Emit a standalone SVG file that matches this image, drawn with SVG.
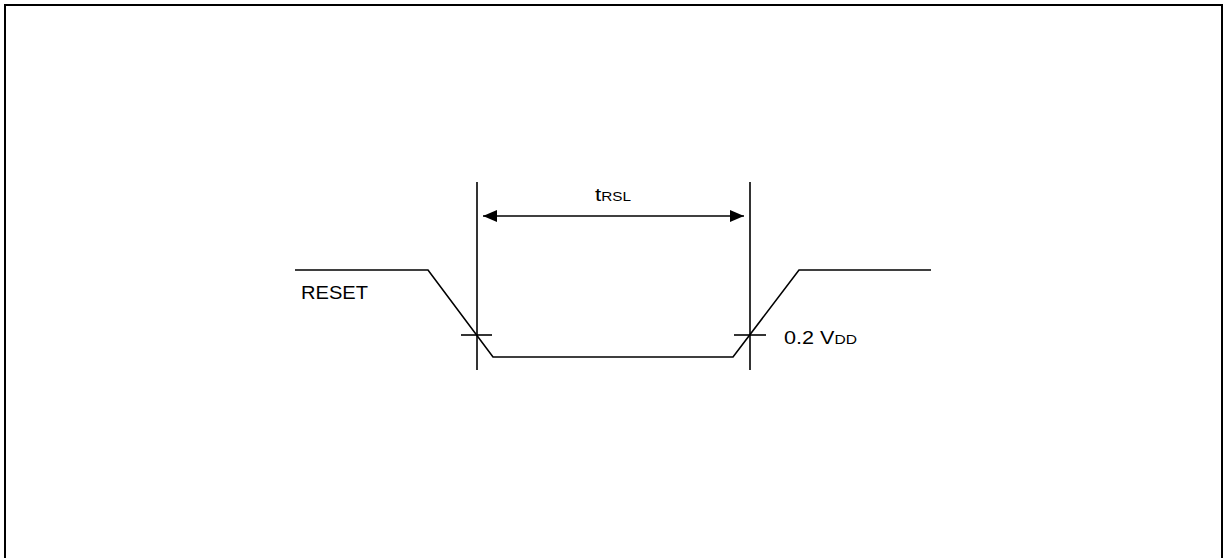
<svg xmlns="http://www.w3.org/2000/svg" width="1223" height="558" viewBox="0 0 1223 558">
<style>
.ln{fill:none;stroke:#000;stroke-width:1.6}
.tx{font-family:"Liberation Sans",Arial,sans-serif;fill:#000}
</style>
<defs>
<marker id="ah" viewBox="0 0 14 12" refX="14" refY="6" markerWidth="14" markerHeight="12" markerUnits="userSpaceOnUse" orient="auto-start-reverse">
<path d="M0,0 L14,6 L0,12 Z" fill="#000"/>
</marker>
</defs>
<rect x="5" y="5" width="1217" height="560" fill="#fff" stroke="#000" stroke-width="2"/>
<g id="connectors">
<path class="ln" d="M295,270 H428 L493,357 H733 L799,270 H931"/>
<line class="ln" x1="477" y1="182" x2="477" y2="370"/>
<line class="ln" x1="750" y1="182" x2="750" y2="370"/>
<line class="ln" x1="461" y1="335" x2="492" y2="335"/>
<line class="ln" x1="734" y1="335" x2="766" y2="335"/>
<line class="ln" x1="483" y1="216" x2="744" y2="216" marker-start="url(#ah)" marker-end="url(#ah)"/>
</g>
<g id="label-reset"><text class="tx" x="301" y="299" font-size="18" textLength="67" lengthAdjust="spacingAndGlyphs">RESET</text></g>
<g id="label-trsl"><text class="tx" x="595" y="201" font-size="19" textLength="36" lengthAdjust="spacingAndGlyphs">t<tspan font-size="13">RSL</tspan></text></g>
<g id="label-vdd"><text class="tx" x="784" y="344" font-size="18" textLength="73" lengthAdjust="spacingAndGlyphs">0.2 V<tspan font-size="13">DD</tspan></text></g>
</svg>
